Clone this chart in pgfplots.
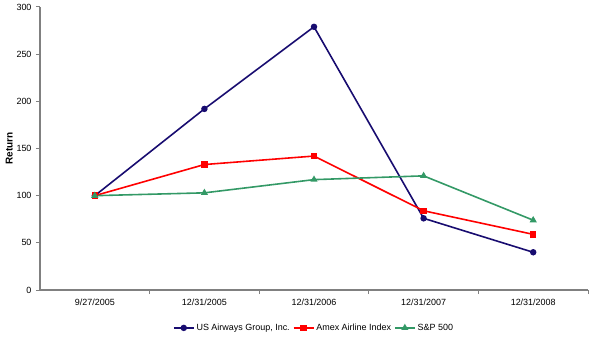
\documentclass[border=0pt]{standalone}
\usepackage{fontspec}
\setmainfont{Liberation Sans}
\usepackage{pgfplots}
\pgfplotsset{compat=1.18}
\definecolor{usair}{RGB}{24,12,112}
\definecolor{amex}{RGB}{255,0,0}
\definecolor{snp}{RGB}{51,153,102}
\definecolor{axgray}{RGB}{128,128,128}
\begin{document}
\begin{tikzpicture}
\begin{axis}[
  name=ax,
  scale only axis,
  width=548bp, height=283bp,
  xmin=-0.5, xmax=4.5,
  ymin=0, ymax=300,
  ytick={0,50,...,300},
  xtick={0,...,4},
  xticklabels={9/27/2005,12/31/2005,12/31/2006,12/31/2007,12/31/2008},
  minor xtick={0.5,1.5,2.5,3.5,4.5},
  major x tick style={draw=none},
  tick align=outside,
  major tick length=4bp,
  minor tick length=4bp,
  tick style={axgray, line width=1pt},
  axis x line*=bottom,
  axis y line*=left,
  axis line style={axgray, line width=1.8pt},
  every axis plot/.append style={line width=1.6pt},
  ticklabel style={font=\fontsize{9}{11}\selectfont},
  /pgf/number format/assume math mode=true,
  yticklabel style={xshift=-1bp},
  ylabel={\textbf{Return}},
  ylabel style={font=\fontsize{10}{12}\selectfont, at={(ticklabel cs:0.5)}, yshift=-3bp},
  xticklabel style={yshift=-1bp},
  legend style={at={(0.5,-0.105)}, anchor=north, draw=none, fill=none,
    legend columns=-1, font=\fontsize{9}{11}\selectfont,
    /tikz/every even column/.append style={column sep=1bp}},
  legend image code/.code={\draw[#1] (0bp,0bp) -- (20bp,0bp); \draw[#1, mark repeat=1] plot coordinates {(10bp,0bp)};},
]
\addplot[usair, mark=*, mark size=2.4pt] coordinates {(0,100) (1,192) (2,279) (3,76) (4,40)};
\addlegendentry{US Airways Group, Inc.}
\addplot[amex, mark=square*, mark size=2.4pt] coordinates {(0,100) (1,133) (2,142) (3,84) (4,59)};
\addlegendentry{Amex Airline Index}
\addplot[snp, mark=triangle*, mark size=2.6pt] coordinates {(0,100) (1,103) (2,117) (3,121) (4,74)};
\addlegendentry{S\&P 500}
\end{axis}
\pgfresetboundingbox
\path (ax.south west) ++(-40bp,-47bp) rectangle ([shift={(7bp,7bp)}]ax.north east);
\end{tikzpicture}
\end{document}
